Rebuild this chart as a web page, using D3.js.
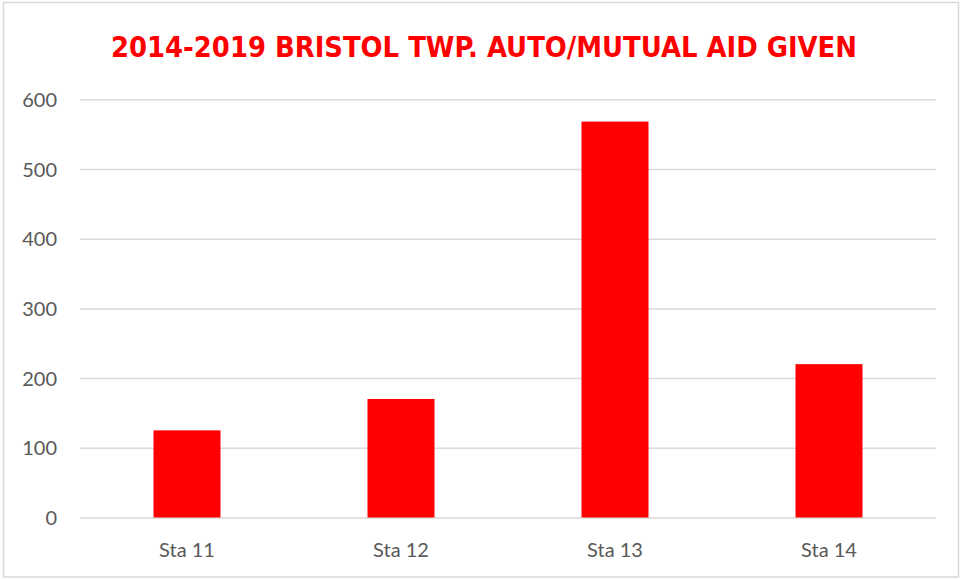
<!DOCTYPE html>
<html>
<head>
<meta charset="utf-8">
<script src="https://cdn.jsdelivr.net/npm/d3@7"></script>
<style>
  html, body { margin: 0; padding: 0; background: #ffffff; }
  svg { display: block; }
</style>
</head>
<body>
<svg id="chart" width="963" height="579"></svg>
<script>
const titleText = "2014-2019 BRISTOL TWP. AUTO/MUTUAL AID GIVEN";
const categories = ["Sta 11", "Sta 12", "Sta 13", "Sta 14"];
const values = [125, 170, 568, 220];
const yTicks = [0, 100, 200, 300, 400, 500, 600];

const svg = d3.select("#chart");
const W = 963, H = 579;
const plot = { left: 80, right: 936, top: 99.3, bottom: 517.5 };

// outer border
svg.append("rect")
  .attr("x", 3.5).attr("y", 2.5)
  .attr("width", 955).attr("height", 574.5)
  .attr("fill", "#ffffff")
  .attr("stroke", "#d9d9d9").attr("stroke-width", 1.5);

const x = d3.scaleBand()
  .domain(categories)
  .range([plot.left, plot.right])
  .paddingInner(0.687)
  .paddingOuter(0.3435);

const y = d3.scaleLinear()
  .domain([0, 600])
  .range([plot.bottom, plot.top]);

// gridlines + y labels via axis
const yAxis = d3.axisLeft(y)
  .tickValues(yTicks)
  .tickSize(-(plot.right - plot.left))
  .tickPadding(23)
  .tickFormat(d3.format("d"));

const gy = svg.append("g")
  .attr("transform", `translate(${plot.left},0)`)
  .call(yAxis);
gy.select(".domain").remove();
gy.selectAll(".tick line")
  .attr("stroke", "#d9d9d9")
  .attr("stroke-width", 1.5);
gy.selectAll(".tick text")
  .attr("fill", "#595959")
  .attr("font-family", "Lato, 'Open Sans', sans-serif")
  .attr("font-size", 20)
  .attr("dy", "0.35em");

// bars
svg.append("g").selectAll("rect")
  .data(categories.map((c, i) => ({ c, v: values[i] })))
  .join("rect")
  .attr("x", d => x(d.c))
  .attr("width", x.bandwidth())
  .attr("y", d => y(d.v))
  .attr("height", d => y(0) - y(d.v))
  .attr("fill", "#ff0000");

// x axis labels
const xAxis = d3.axisBottom(x).tickSize(0).tickPadding(0);
const gx = svg.append("g")
  .attr("transform", `translate(0,${plot.bottom})`)
  .call(xAxis);
gx.select(".domain").remove();
gx.selectAll(".tick text")
  .attr("fill", "#595959")
  .attr("font-family", "Lato, 'Open Sans', sans-serif")
  .attr("font-size", 20)
  .attr("y", 39.5)
  .attr("dy", 0);

// title
svg.append("text")
  .attr("x", 111)
  .attr("y", 56.7)
  .attr("text-anchor", "start")
  .attr("fill", "#ff0000")
  .attr("font-family", "'Liberation Sans Narrow', 'DejaVu Sans Condensed', 'Liberation Sans', sans-serif")
  .attr("font-weight", "bold")
  .attr("font-size", 28)
  .attr("textLength", 746)
  .attr("lengthAdjust", "spacingAndGlyphs")
  .text(titleText);
</script>
</body>
</html>
